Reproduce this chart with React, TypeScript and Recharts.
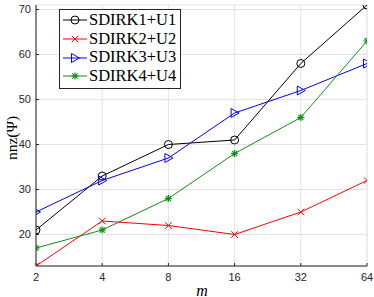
import React from 'react';
import { LineChart, Line, XAxis, YAxis, CartesianGrid, Legend, Label } from 'recharts';

const mValues = [2, 4, 8, 16, 32, 64];
const sdirk1 = [21, 33, 40, 41, 58, 71];
const sdirk2 = [13, 23, 22, 20, 25, 32];
const sdirk3 = [25, 32, 37, 47, 52, 58];
const sdirk4 = [17, 21, 28, 38, 46, 63];

const xTicks = [2, 4, 8, 16, 32, 64];
const xMinorTicks = [3, 5, 6, 7, 9, 10, 20, 30, 40, 50, 60];
const yTicks = [20, 30, 40, 50, 60, 70];
const yDomain = [13, 71];

const seriesNames = ['SDIRK1+U1', 'SDIRK2+U2', 'SDIRK3+U3', 'SDIRK4+U4'];
const seriesKeys = ['s1', 's2', 's3', 's4'];
const seriesColors = ['#000000', '#ff0000', '#0000ff', '#108f10'];
const seriesMarkers = ['circle', 'cross', 'triangle', 'star'];

const data = mValues.map((m, i) => ({
  m,
  s1: sdirk1[i],
  s2: sdirk2[i],
  s3: sdirk3[i],
  s4: sdirk4[i],
}));

const AXIS = '#262626';

function Marker({ type, cx, cy, color }: { type: string; cx: number; cy: number; color: string }) {
  if (type === 'circle') {
    return <circle cx={cx} cy={cy} r={4} fill="none" stroke={color} strokeWidth={1} />;
  }
  if (type === 'cross') {
    const s = 3.3;
    return (
      <g stroke={color} strokeWidth={1}>
        <line x1={cx - s} y1={cy - s} x2={cx + s} y2={cy + s} />
        <line x1={cx - s} y1={cy + s} x2={cx + s} y2={cy - s} />
      </g>
    );
  }
  if (type === 'triangle') {
    return (
      <polygon
        points={`${cx - 3.5},${cy - 4.5} ${cx + 4.5},${cy} ${cx - 3.5},${cy + 4.5}`}
        fill="none"
        stroke={color}
        strokeWidth={1}
      />
    );
  }
  const s = 3.6;
  const d = 2.6;
  return (
    <g stroke={color} strokeWidth={1.2}>
      <line x1={cx - s} y1={cy} x2={cx + s} y2={cy} />
      <line x1={cx} y1={cy - s} x2={cx} y2={cy + s} />
      <line x1={cx - d} y1={cy - d} x2={cx + d} y2={cy + d} />
      <line x1={cx - d} y1={cy + d} x2={cx + d} y2={cy - d} />
    </g>
  );
}

const makeDot = (idx: number) => (props: any) => {
  const { cx, cy, key, index } = props;
  if (cx == null || cy == null) return <g key={key ?? index} />;
  return (
    <g key={key ?? `d-${idx}-${index}`}>
      <Marker type={seriesMarkers[idx]} cx={cx} cy={cy} color={seriesColors[idx]} />
    </g>
  );
};

const renderLegend = () => (
  <div
    style={{
      border: `1px solid ${AXIS}`,
      background: '#ffffff',
      padding: '1px 4px 2px 2px',
      fontFamily: '"Liberation Serif", "Times New Roman", serif',
      fontSize: 16.5,
      color: '#000',
      lineHeight: '18.7px',
    }}
  >
    {seriesNames.map((name, i) => (
      <div key={name} style={{ display: 'flex', alignItems: 'center', height: 18.7, whiteSpace: 'nowrap' }}>
        <svg width={26} height={18} style={{ display: 'block' }}>
          <line x1={1} y1={9} x2={25} y2={9} stroke={seriesColors[i]} strokeWidth={1} />
          <Marker type={seriesMarkers[i]} cx={13} cy={9} color={seriesColors[i]} />
        </svg>
        <span style={{ marginLeft: 1 }}>{name}</span>
      </div>
    ))}
  </div>
);

const renderYLabel = () => (
  <text
    x={17}
    y={138}
    transform="rotate(-90, 17, 138)"
    textAnchor="middle"
    fontFamily='"Liberation Serif", "Times New Roman", serif'
    fontSize={15.5}
    fill="#000"
  >
    nnz(Ψ)
  </text>
);

const renderXLabel = () => (
  <text
    x={202}
    y={295.5}
    textAnchor="middle"
    fontFamily='"Liberation Serif", "Times New Roman", serif'
    fontStyle="italic"
    fontSize={16}
    fill="#000"
  >
    m
  </text>
);

const tickStyle = { fontFamily: '"Liberation Sans", Arial, sans-serif', fontSize: 11, fill: AXIS };

export default function App() {
  return (
    <div style={{ position: 'absolute', left: 0, top: 0, width: 374, height: 297, background: '#fff' }}>
      <LineChart width={374} height={297} data={data} margin={{ top: 5, right: 7, bottom: 0, left: 0 }}>
        <XAxis
          dataKey="m"
          type="number"
          scale="log"
          domain={[2, 64]}
          ticks={xTicks}
          allowDataOverflow
          height={31}
          tickSize={-3}
          tickMargin={10}
          tick={tickStyle}
          stroke={AXIS}
          axisLine={{ stroke: AXIS }}
          tickLine={{ stroke: AXIS }}
          interval={0}
        >
          <Label content={renderXLabel} />
        </XAxis>
        <XAxis
          xAxisId="top"
          dataKey="m"
          type="number"
          scale="log"
          domain={[2, 64]}
          ticks={xTicks}
          allowDataOverflow
          orientation="top"
          mirror
          height={0}
          tickSize={3}
          tick={false}
          axisLine={{ stroke: AXIS }}
          tickLine={{ stroke: AXIS }}
          interval={0}
        />
        <XAxis
          xAxisId="minor"
          dataKey="m"
          type="number"
          scale="log"
          domain={[2, 64]}
          ticks={xMinorTicks}
          allowDataOverflow
          orientation="bottom"
          mirror
          height={0}
          tickSize={2}
          tick={false}
          axisLine={false}
          tickLine={{ stroke: AXIS }}
          interval={0}
        />
        <XAxis
          xAxisId="minorTop"
          dataKey="m"
          type="number"
          scale="log"
          domain={[2, 64]}
          ticks={xMinorTicks}
          allowDataOverflow
          orientation="top"
          mirror
          height={0}
          tickSize={2}
          tick={false}
          axisLine={false}
          tickLine={{ stroke: AXIS }}
          interval={0}
        />
        <YAxis
          type="number"
          domain={yDomain}
          ticks={yTicks}
          allowDataOverflow
          width={36}
          tickSize={-3}
          tickMargin={8}
          tick={tickStyle}
          axisLine={{ stroke: AXIS }}
          tickLine={{ stroke: AXIS }}
          interval={0}
        >
          <Label content={renderYLabel} />
        </YAxis>
        <YAxis
          yAxisId="right"
          orientation="right"
          mirror
          type="number"
          domain={yDomain}
          ticks={yTicks}
          allowDataOverflow
          width={0}
          tickSize={3}
          tick={false}
          axisLine={{ stroke: AXIS }}
          tickLine={{ stroke: AXIS }}
          interval={0}
        />
        <CartesianGrid xAxisId="minor" horizontal={false} stroke="#d4d4d4" strokeDasharray="1 2" />
        <CartesianGrid stroke="#e3e3e3" />
        {seriesKeys.map((k, i) => (
          <Line
            key={k}
            dataKey={k}
            name={seriesNames[i]}
            stroke={seriesColors[i]}
            strokeWidth={1}
            dot={makeDot(i)}
            activeDot={false}
            isAnimationActive={false}
          />
        ))}
        <Legend
          layout="vertical"
          align="center"
          verticalAlign="middle"
          content={renderLegend}
          wrapperStyle={{ left: 59, top: 9, width: 'auto', height: 'auto' }}
        />
      </LineChart>
    </div>
  );
}
